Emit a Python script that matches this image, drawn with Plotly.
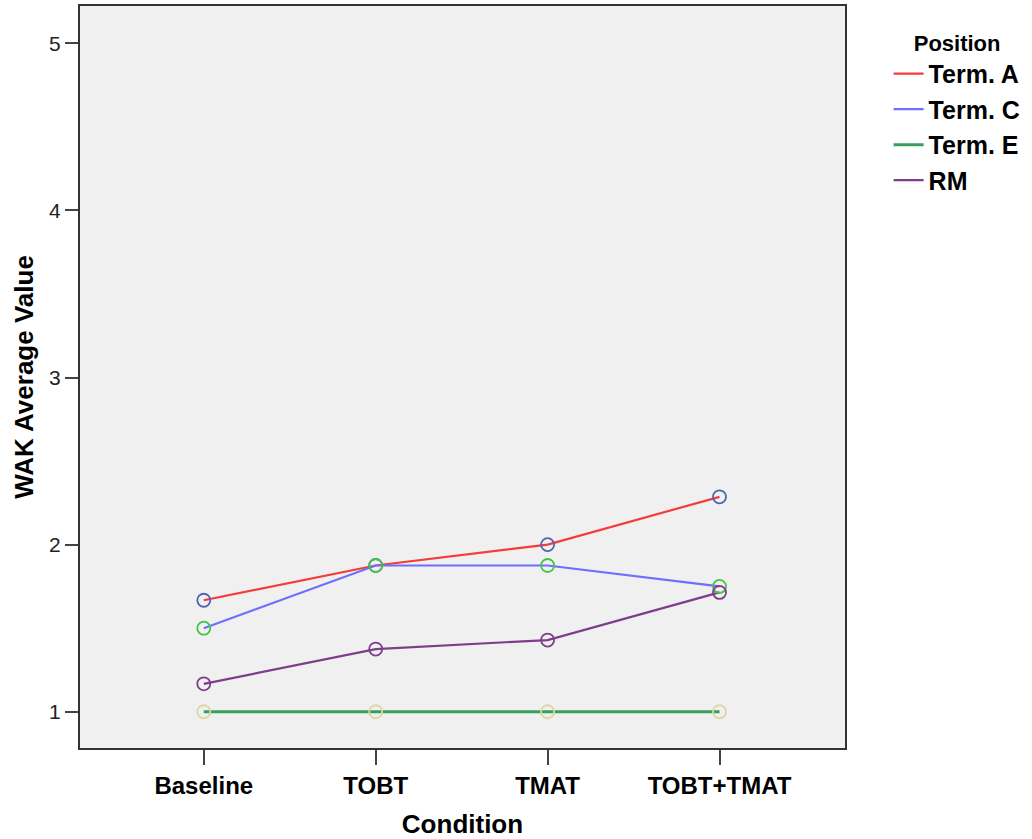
import plotly.graph_objects as go

conditions = ["Baseline", "TOBT", "TMAT", "TOBT+TMAT"]
series_names = ["Term. A", "Term. C", "Term. E", "RM"]
term_a = [1.667, 1.875, 2.0, 2.286]
term_c = [1.5, 1.875, 1.875, 1.75]
term_e = [1.0, 1.0, 1.0, 1.0]
rm = [1.167, 1.375, 1.429, 1.714]
y_ticks = [1, 2, 3, 4, 5]

values = [term_a, term_c, term_e, rm]
line_colors = ["#f43c3c", "#6e6eff", "#36a05c", "#7e3d8a"]
line_widths = [2.2, 2.2, 3, 2.2]
marker_colors = ["#4f66b0", "#45c445", "#dcd8a2", "#7e3d8a"]

FONT = "Liberation Sans, Arial, Helvetica, sans-serif"

fig = go.Figure()
for name, vals, lc, lw in zip(series_names, values, line_colors, line_widths):
    fig.add_trace(go.Scatter(
        x=conditions, y=vals, mode="lines", name="<b>" + name + "</b>",
        line=dict(color=lc, width=lw), legendgroup=name,
        hoverinfo="skip",
    ))
for name, vals, mc in zip(series_names, values, marker_colors):
    fig.add_trace(go.Scatter(
        x=conditions, y=vals, mode="markers", name=name,
        marker=dict(symbol="circle-open", size=13, color=mc, line=dict(width=1.8, color=mc)),
        showlegend=False, legendgroup=name,
    ))

fig.update_layout(
    width=1032, height=839,
    margin=dict(l=80, r=187, t=6, b=91, autoexpand=False),
    paper_bgcolor="white",
    plot_bgcolor="#f0f0f0",
    font=dict(family=FONT, color="#000"),
    showlegend=True,
    legend=dict(
        x=1.057, xanchor="left", y=0.978, yanchor="top",
        title=dict(text="<b>Position</b>", side="top center", font=dict(size=22, family=FONT)),
        font=dict(size=25, family=FONT),
        tracegroupgap=0,
        bgcolor="rgba(0,0,0,0)",
    ),
    xaxis=dict(
        type="category", range=[-0.72, 3.73],
        showline=True, mirror=True, linecolor="#333", linewidth=2,
        ticks="outside", ticklen=15, tickwidth=2, tickcolor="#444",
        showgrid=False, zeroline=False,
        tickfont=dict(size=24, family=FONT, color="#000"),
        tickprefix="<b>", ticksuffix="</b>",
        title=dict(text="<b>Condition</b>", font=dict(size=26, family=FONT), standoff=19),
        automargin=False,
    ),
    yaxis=dict(
        range=[0.783, 5.223],
        tickvals=y_ticks,
        showline=True, mirror=True, linecolor="#333", linewidth=2,
        ticks="outside", ticklen=13, tickwidth=2, tickcolor="#444",
        showgrid=False, zeroline=False,
        tickfont=dict(size=21, family=FONT, color="#222"),
        title=dict(text="<b>WAK Average Value</b>", font=dict(size=26, family=FONT), standoff=8),
        automargin=False,
    ),
)

fig.write_html("out.html", config={"displayModeBar": False},
               post_script="document.body.style.margin='0';")
